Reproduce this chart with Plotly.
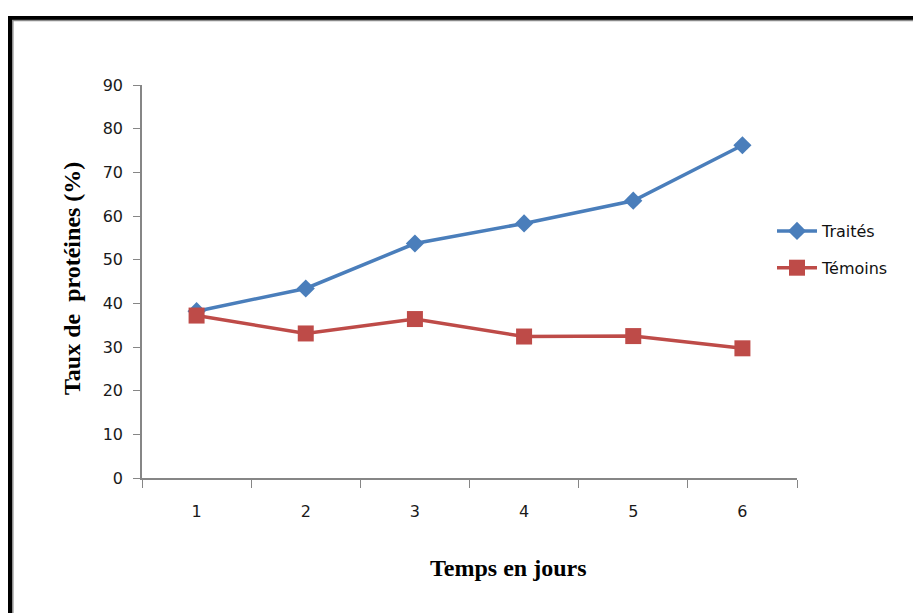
import plotly.graph_objects as go

# Protein rate over time, treated vs. control
jours = [1, 2, 3, 4, 5, 6]
jour_labels = ["1", "2", "3", "4", "5", "6"]
traites = [38.2, 43.4, 53.7, 58.3, 63.5, 76.2]
temoins = [37.2, 33.1, 36.4, 32.4, 32.5, 29.7]
y_ticks = [0, 10, 20, 30, 40, 50, 60, 70, 80, 90]

W, H = 913, 613
L, R, T, B = 142, 116, 85, 135
pw, ph = W - L - R, H - T - B


def px_x(p):
    return (p - L) / pw


def px_y(p):
    return (H - B - p) / ph


fig = go.Figure()
fig.add_trace(go.Scatter(
    x=jours, y=traites, name="Traités", mode="lines+markers",
    line=dict(color="#4A7EBB", width=3.5),
    marker=dict(symbol="diamond", size=14, color="#4A7EBB"),
    legendgroup="a",
))
fig.add_trace(go.Scatter(
    x=jours, y=temoins, name="Témoins", mode="lines+markers",
    line=dict(color="#BE4B48", width=3.5),
    marker=dict(symbol="square", size=16, color="#BE4B48"),
    legendgroup="b",
))

tick_font = dict(family="DejaVu Sans", size=16, color="#1a1a1a")
title_font = dict(family="Liberation Serif", size=24, color="#000000")

fig.update_layout(
    width=W, height=H,
    margin=dict(l=L, r=R, t=T, b=B, pad=0),
    paper_bgcolor="white", plot_bgcolor="white",
    showlegend=True,
    legend=dict(
        x=px_x(772), y=px_y(214), xanchor="left", yanchor="top",
        font=dict(family="DejaVu Sans", size=16, color="#111111"),
        bgcolor="rgba(0,0,0,0)", tracegroupgap=13, itemwidth=40,
    ),
    xaxis=dict(
        range=[0.5, 6.5], tickmode="array", tickvals=jours, ticktext=jour_labels,
        ticks="outside", ticklen=18, tickcolor="rgba(0,0,0,0)",
        minor=dict(tickmode="linear", tick0=0.5, dtick=1, ticks="outside",
                   ticklen=8, tickcolor="#868686", tickwidth=1, showgrid=False),
        showline=True, linecolor="#868686", linewidth=1.5,
        showgrid=False, zeroline=False, tickfont=tick_font,
    ),
    yaxis=dict(
        range=[0, 90], tickmode="array", tickvals=y_ticks,
        ticks="outside", ticklen=7, tickcolor="#868686",
        showline=True, linecolor="#868686", linewidth=1.5,
        showgrid=False, zeroline=False, tickfont=tick_font,
        ticklabelstandoff=7,
    ),
    annotations=[
        dict(text="<b>Taux de\u00a0 protéines (%)</b>", xref="paper", yref="paper",
             x=px_x(72), y=px_y(279), textangle=-90, showarrow=False,
             font=title_font, xanchor="center", yanchor="middle"),
        dict(text="<b>Temps en jours</b>", xref="paper", yref="paper",
             x=px_x(508), y=px_y(568), showarrow=False,
             font=title_font, xanchor="center", yanchor="middle"),
    ],
    shapes=[
        # outer frame: black band with a thin grey inner edge
        dict(type="rect", xref="paper", yref="paper",
             x0=px_x(10), x1=px_x(940), y0=px_y(640), y1=px_y(18),
             line=dict(color="black", width=4), layer="above"),
        dict(type="rect", xref="paper", yref="paper",
             x0=px_x(12.8), x1=px_x(940), y0=px_y(640), y1=px_y(20.6),
             line=dict(color="#8a8a8a", width=1.5), layer="above"),
    ],
)

fig.write_html("out.html")
